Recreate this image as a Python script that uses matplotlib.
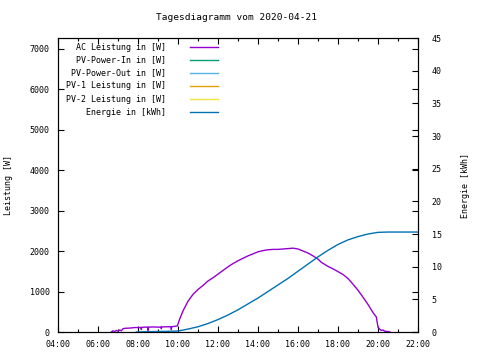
import matplotlib
matplotlib.use("Agg")
import matplotlib.pyplot as plt
from matplotlib.ticker import MultipleLocator, FuncFormatter

# AC-Leistung (Zeit "HH:MM", Watt)
ac_time = ["06:40", "06:45", "06:50", "06:55", "07:00", "07:05", "07:10", "07:15",
           "07:20", "07:30", "07:40", "07:50", "08:00", "08:09", "08:10", "08:11",
           "08:20", "08:29", "08:30", "08:31", "08:45", "09:00", "09:09", "09:10",
           "09:11", "09:30", "09:39", "09:40", "09:41", "09:50", "09:58", "10:05",
           "10:15", "10:30", "10:45", "11:00", "11:15", "11:30", "11:45", "12:00",
           "12:15", "12:30", "12:45", "13:00", "13:15", "13:30", "13:45", "14:00",
           "14:15", "14:30", "14:45", "15:00", "15:15", "15:30", "15:45", "16:00",
           "16:15", "16:30", "16:45", "17:00", "17:10", "17:30", "17:45", "18:00",
           "18:15", "18:30", "18:45", "19:00", "19:15", "19:30", "19:45", "19:55",
           "20:00", "20:05", "20:10", "20:15", "20:20", "20:30", "20:36"]
ac_watt = [0, 30, 10, 40, 20, 50, 30, 80,
           90, 95, 100, 110, 110, 112, 60, 115,
           120, 120, 40, 120, 125, 120, 122, 80,
           125, 130, 130, 60, 130, 140, 150, 320,
           520, 760, 930, 1050, 1150, 1260, 1340, 1430,
           1520, 1610, 1690, 1760, 1820, 1880, 1930, 1980,
           2010, 2030, 2040, 2040, 2050, 2060, 2070, 2050,
           2000, 1950, 1880, 1800, 1720, 1620, 1560, 1490,
           1420, 1320, 1180, 1030, 860, 680, 480, 370,
           120, 70, 40, 50, 20, 10, 0]

# Energie (kWh)
en_time = ["07:55", "08:30", "09:00", "09:30", "10:00", "10:30", "11:00", "11:30",
           "12:00", "12:30", "13:00", "13:30", "14:00", "14:30", "15:00", "15:30",
           "16:00", "16:30", "17:00", "17:30", "18:00", "18:30", "19:00", "19:30",
           "20:00", "20:30", "22:00"]
en_kwh = [0, 0.05, 0.08, 0.1, 0.15, 0.45, 0.8, 1.3,
          1.9, 2.6, 3.4, 4.3, 5.2, 6.2, 7.2, 8.2,
          9.3, 10.4, 11.5, 12.5, 13.4, 14.1, 14.6, 15.0,
          15.25, 15.3, 15.3]

labels = ["AC Leistung in [W]", "PV-Power-In in [W]", "PV-Power-Out in [W]",
          "PV-1 Leistung in [W]", "PV-2 Leistung in [W]", "Energie in [kWh]"]
colors = ["#9400d3", "#009e73", "#56b4e9", "#e69f00", "#f0e442", "#0072b2"]


def to_hours(t):
    h, m = t.split(":")
    return int(h) + int(m) / 60.0


plt.rcParams['font.family'] = ['DejaVu Sans Mono']
plt.rcParams['font.size'] = 6

fig = plt.figure(figsize=(4.8, 3.6), dpi=100)
ax = fig.add_axes([58 / 480, 1 - 332 / 360, 360 / 480, 294 / 360])
ax2 = ax.twinx()

ax.plot([to_hours(t) for t in ac_time], ac_watt, color=colors[0], lw=1.0)
ax2.plot([to_hours(t) for t in en_time], en_kwh, color=colors[5], lw=1.0)

ax.set_xlim(4, 22)
ax.set_ylim(0, 7260)
ax2.set_ylim(0, 45)

ax.xaxis.set_major_locator(MultipleLocator(2))
ax.xaxis.set_minor_locator(MultipleLocator(1))
ax.xaxis.set_major_formatter(FuncFormatter(lambda v, p: "%02d:00" % int(round(v))))
ax.yaxis.set_major_locator(MultipleLocator(1000))
ax2.yaxis.set_major_locator(MultipleLocator(5))

ax.tick_params(axis="both", which="both", direction="in", top=True, right=True,
               width=0.8, pad=6)
ax.tick_params(axis="both", which="major", length=4)
ax.tick_params(axis="both", which="minor", length=2)
ax2.tick_params(axis="y", direction="in", length=4, width=0.8, pad=10)

for a in (ax, ax2):
    for s in a.spines.values():
        s.set_linewidth(0.8)

ax.set_ylabel("Leistung [W]", labelpad=12)
ax2.set_ylabel("Energie [kWh]", labelpad=14)
fig.text(237 / 480, 1 - 18 / 360, "Tagesdiagramm vom 2020-04-21", ha="center",
         va="center", fontsize=6.8)

# Legende wie bei gnuplot: Text rechtsbündig, Linie rechts daneben
for i, (lab, col) in enumerate(zip(labels, colors)):
    yy = 1 - (9 + 13 * i) / 294
    ax.text(0.30, yy, lab, transform=ax.transAxes, ha="right", va="center")
    ax.plot([0.367, 0.444], [yy, yy], transform=ax.transAxes, color=col, lw=1.0)

fig.savefig("out.png", dpi=100)
